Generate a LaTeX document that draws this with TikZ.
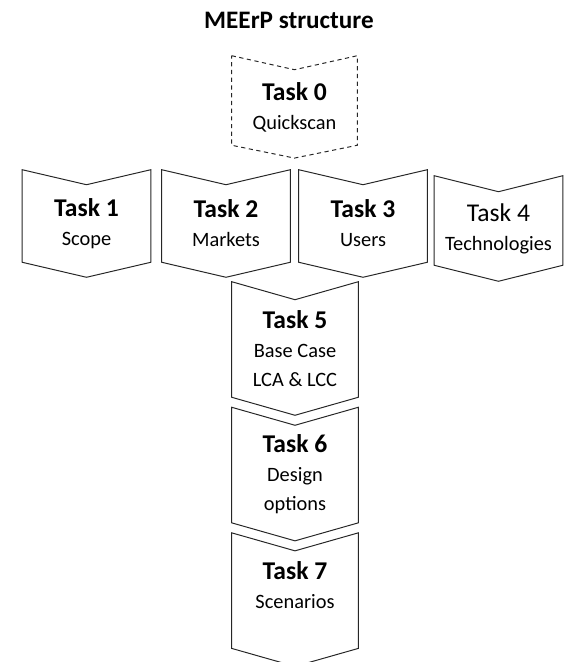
\documentclass[tikz,border=0pt]{standalone}
\usepackage{fontspec}
\setmainfont{Carlito}
\usetikzlibrary{positioning,calc}

\newcommand{\taskhead}[1]{{\fontsize{18.2}{20.6}\selectfont\bfseries #1}}

\begin{document}
\begin{tikzpicture}[task/.style={rectangle, inner sep=0pt, minimum width=3.2cm, minimum height=1.925cm, align=center, font=\fontsize{14.5}{20.6}\selectfont},
    column/.style={task, minimum width=3.15cm, minimum height=2.425cm},
    chevron/.style={line width=0.7pt, draw=black!85}]

        \useasboundingbox (0,0) rectangle (14.15,-16.55);

        % Title
        \node (title) at (7.225,-0.51) {\fontsize{17.9}{20}\selectfont\bfseries MEErP structure};

        % Task 0
        \node [task, minimum width=3.125cm, minimum height=1.875cm] (t0) at (7.3625,-2.6875) {\taskhead{Task 0}\\Quickscan};

        % Tasks 1 to 4
        \node [task] (t1) at (2.1625,-5.5875) {\taskhead{Task 1}\\Scope};
        \node [task] (t2) at (5.65,-5.5875) {\taskhead{Task 2}\\Markets};
        \node [task] (t3) at (9.075,-5.5875) {\taskhead{Task 3}\\Users};
        \node [task, minimum height=1.825cm] (t4) at (12.4625,-5.7125) {{\fontsize{18.2}{20.6}\selectfont Task 4}\\Technologies};

        % Tasks 5 to 7
        \node [column] (t5) at (7.375,-8.7125) {\taskhead{Task 5}\\Base Case\\LCA \& LCC};
        \node [column, below=0.7cm of t5] (t6) {\taskhead{Task 6}\\Design\\options};
        \node [column, below=0.7cm of t6] (t7) {\taskhead{Task 7}\\Scenarios\\~};

        % Outlines
        \draw [chevron, dash pattern=on 3pt off 2.5pt] ($(t0.north west)+(0,0.35)$) -- (t0.north) -- ($(t0.north east)+(0,0.35)$) -- (t0.south east) -- ($(t0.south)+(0,-0.32)$) -- (t0.south west) -- cycle;
        \foreach \t/\d in {t1/0.375, t2/0.375, t3/0.375, t4/0.4, t5/0.45, t6/0.45, t7/0.45}
            \draw [chevron] ($(\t.north west)+(0,\d)$) -- (\t.north) -- ($(\t.north east)+(0,\d)$) -- (\t.south east) -- ($(\t.south)+(0,-\d)$) -- (\t.south west) -- cycle;

    \end{tikzpicture}
\end{document}
